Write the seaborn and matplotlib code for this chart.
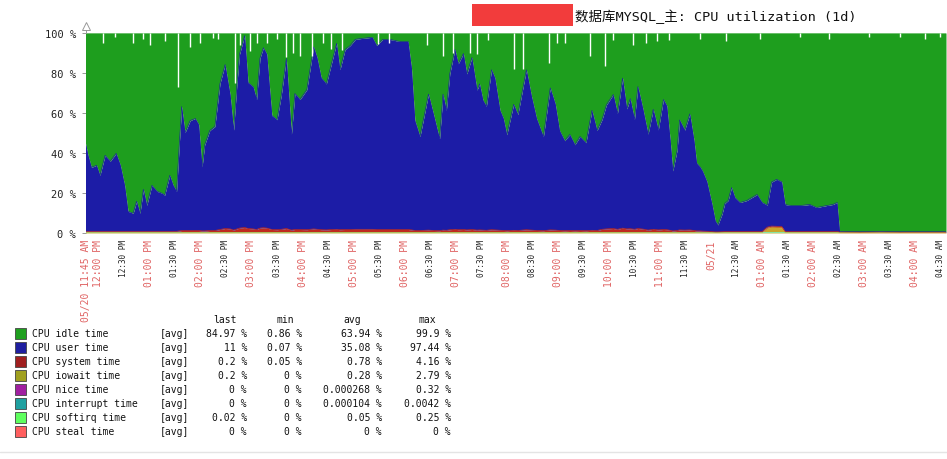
import numpy as np
import pandas as pd
import matplotlib
matplotlib.use("Agg")
import matplotlib.pyplot as plt
import seaborn as sns
from matplotlib.patches import Rectangle
from matplotlib.lines import Line2D

# ---------------- data ----------------
title_text = "数据库MYSQL_主: CPU utilization (1d)"

# minutes after 05/20 11:45 AM
minutes = [0, 3, 7, 13, 17, 23, 29, 36, 41, 46,
           50, 56, 60, 64, 68, 72, 78, 84, 90, 93,
           99, 103, 107, 110, 113, 117, 123, 129, 133, 137,
           140, 146, 152, 158, 164, 170, 174, 178, 181, 187,
           191, 197, 201, 205, 209, 213, 219, 225, 230, 236,
           242, 246, 252, 260, 268, 272, 277, 283, 289, 295,
           299, 305, 311, 317, 326, 337, 342, 349, 358, 369,
           379, 383, 387, 393, 403, 409, 416, 420, 424, 428,
           434, 438, 444, 448, 454, 460, 463, 467, 471, 477,
           481, 487, 491, 495, 503, 508, 518, 524, 530, 538,
           546, 552, 557, 563, 569, 575, 581, 588, 595, 601,
           607, 612, 620, 625, 631, 636, 640, 645, 649, 655,
           661, 667, 673, 679, 683, 687, 690, 695, 698, 704,
           710, 715, 718, 722, 725, 730, 736, 740, 743, 748,
           751, 755, 759, 763, 769, 777, 783, 789, 795, 801,
           806, 812, 818, 822, 828, 840, 851, 859, 871, 878,
           883, 886, 910, 933, 957, 980, 1011]

cpu_user = [44, 38, 32, 33, 28, 38, 35, 39, 33, 23,
            10, 9, 15, 9, 21, 13, 23, 20, 19, 18,
            28, 23, 20, 42, 62, 49, 55, 56, 53, 32,
            43, 50, 52, 73, 82, 67, 50, 73, 87, 96,
            73, 71, 65, 85, 90, 87, 57, 55, 67, 85,
            48, 68, 65, 70, 91, 86, 76, 73, 83, 93,
            80, 90, 92, 95, 95.5, 96, 92, 95, 95, 94,
            94, 81, 55, 47, 68, 58, 46, 68, 60, 78,
            90, 83, 88, 78, 86, 70, 73, 65, 62, 80,
            76, 60, 56, 48, 63, 58, 80, 67, 56, 47,
            71, 63, 50, 45, 48, 43, 47, 44, 60, 50,
            55, 62, 67, 58, 75, 60, 65, 55, 71, 60,
            48, 60, 50, 65, 62, 45, 30, 40, 55, 50,
            58, 45, 34, 32, 30, 25, 14, 5.5, 3.5, 9,
            14, 15.5, 22, 17, 14.5, 15.5, 17, 18.5, 14.5, 11,
            22, 23.5, 22.3, 13.5, 13, 13, 13.5, 12, 13, 13.5,
            14.5, 0.3, 0.2, 0.3, 0.2, 0.3, 0.3]

cpu_system = [0.6, 0.6, 0.6, 0.6, 0.6, 0.6, 0.6, 0.6, 0.6, 0.6,
              0.6, 0.6, 0.6, 0.6, 0.6, 0.6, 0.6, 0.6, 0.6, 0.6,
              0.6, 0.6, 0.6, 0.8, 1.0, 1.0, 1.0, 1.0, 1.0, 0.8,
              0.8, 1.0, 1.0, 1.5, 2.0, 1.8, 1.2, 1.8, 2.2, 2.5,
              2.0, 1.8, 1.5, 2.2, 2.4, 2.2, 1.5, 1.4, 1.6, 2.0,
              1.2, 1.5, 1.5, 1.4, 1.8, 1.6, 1.4, 1.3, 1.5, 1.6,
              1.4, 1.5, 1.5, 1.6, 1.6, 1.6, 1.5, 1.5, 1.5, 1.5,
              1.5, 1.3, 1.0, 1.0, 1.2, 1.0, 0.9, 1.2, 1.1, 1.4,
              1.6, 1.4, 1.5, 1.3, 1.5, 1.2, 1.3, 1.2, 1.1, 1.4,
              1.3, 1.1, 1.0, 0.9, 1.1, 1.0, 1.4, 1.2, 1.0, 0.9,
              1.3, 1.2, 1.0, 0.9, 1.0, 0.9, 1.0, 0.9, 1.1, 1.0,
              1.6, 1.8, 2.0, 1.6, 2.2, 1.8, 1.9, 1.6, 2.0, 1.7,
              1.2, 1.6, 1.3, 1.5, 1.4, 1.1, 0.8, 1.0, 1.3, 1.2,
              1.3, 1.0, 0.8, 0.8, 0.7, 0.6, 0.4, 0.3, 0.3, 0.4,
              0.5, 0.5, 0.5, 0.5, 0.5, 0.5, 0.5, 0.5, 0.5, 0.5,
              0.6, 0.6, 0.6, 0.5, 0.5, 0.5, 0.5, 0.5, 0.5, 0.5,
              0.5, 0.3, 0.2, 0.3, 0.2, 0.2, 0.2]

cpu_iowait = [0.2, 0.2, 0.2, 0.2, 0.2, 0.2, 0.2, 0.2, 0.2, 0.2,
              0.2, 0.2, 0.2, 0.2, 0.2, 0.2, 0.2, 0.2, 0.2, 0.2,
              0.2, 0.2, 0.2, 0.2, 0.2, 0.2, 0.2, 0.2, 0.2, 0.2,
              0.2, 0.2, 0.2, 0.2, 0.2, 0.2, 0.2, 0.2, 0.2, 0.2,
              0.2, 0.2, 0.2, 0.2, 0.2, 0.2, 0.2, 0.2, 0.2, 0.2,
              0.2, 0.2, 0.2, 0.2, 0.2, 0.2, 0.2, 0.2, 0.2, 0.2,
              0.2, 0.2, 0.2, 0.2, 0.2, 0.2, 0.2, 0.2, 0.2, 0.2,
              0.2, 0.2, 0.2, 0.2, 0.2, 0.2, 0.2, 0.2, 0.2, 0.2,
              0.2, 0.2, 0.2, 0.2, 0.2, 0.2, 0.2, 0.2, 0.2, 0.2,
              0.2, 0.2, 0.2, 0.2, 0.2, 0.2, 0.2, 0.2, 0.2, 0.2,
              0.2, 0.2, 0.2, 0.2, 0.2, 0.2, 0.2, 0.2, 0.2, 0.2,
              0.2, 0.2, 0.2, 0.2, 0.2, 0.2, 0.2, 0.2, 0.2, 0.2,
              0.2, 0.2, 0.2, 0.2, 0.2, 0.2, 0.2, 0.2, 0.2, 0.2,
              0.2, 0.2, 0.2, 0.2, 0.2, 0.2, 0.2, 0.2, 0.2, 0.2,
              0.2, 0.2, 0.2, 0.2, 0.2, 0.2, 0.2, 0.2, 0.2, 2.4,
              2.8, 2.7, 2.6, 0.2, 0.2, 0.2, 0.2, 0.2, 0.2, 0.2,
              0.2, 0.2, 0.2, 0.2, 0.2, 0.2, 0.2]

cpu_softirq = [0.05, 0.05, 0.05, 0.05, 0.05, 0.05, 0.05, 0.05, 0.05, 0.05,
               0.05, 0.05, 0.05, 0.05, 0.05, 0.05, 0.05, 0.05, 0.05, 0.05,
               0.05, 0.05, 0.05, 0.05, 0.05, 0.05, 0.05, 0.05, 0.05, 0.05,
               0.05, 0.05, 0.05, 0.05, 0.05, 0.05, 0.05, 0.05, 0.05, 0.05,
               0.05, 0.05, 0.05, 0.05, 0.05, 0.05, 0.05, 0.05, 0.05, 0.05,
               0.05, 0.05, 0.05, 0.05, 0.05, 0.05, 0.05, 0.05, 0.05, 0.05,
               0.05, 0.05, 0.05, 0.05, 0.05, 0.05, 0.05, 0.05, 0.05, 0.05,
               0.05, 0.05, 0.05, 0.05, 0.05, 0.05, 0.05, 0.05, 0.05, 0.05,
               0.05, 0.05, 0.05, 0.05, 0.05, 0.05, 0.05, 0.05, 0.05, 0.05,
               0.05, 0.05, 0.05, 0.05, 0.05, 0.05, 0.05, 0.05, 0.05, 0.05,
               0.05, 0.05, 0.05, 0.05, 0.05, 0.05, 0.05, 0.05, 0.05, 0.05,
               0.05, 0.05, 0.05, 0.05, 0.05, 0.05, 0.05, 0.05, 0.05, 0.05,
               0.05, 0.05, 0.05, 0.05, 0.05, 0.05, 0.05, 0.05, 0.05, 0.05,
               0.05, 0.05, 0.05, 0.05, 0.05, 0.05, 0.05, 0.05, 0.05, 0.05,
               0.05, 0.05, 0.05, 0.05, 0.05, 0.05, 0.05, 0.05, 0.05, 0.05,
               0.05, 0.05, 0.05, 0.05, 0.05, 0.05, 0.05, 0.05, 0.05, 0.05,
               0.05, 0.02, 0.02, 0.02, 0.02, 0.02, 0.02]

cpu_idle = [55.2, 61.2, 67.2, 66.2, 71.2, 61.2, 64.2, 60.2, 66.2, 76.2,
            89.2, 90.2, 84.2, 90.2, 78.2, 86.2, 76.2, 79.2, 80.2, 81.2,
            71.2, 76.2, 79.2, 57.0, 36.8, 49.8, 43.8, 42.8, 45.8, 67.0,
            56.0, 48.8, 46.8, 25.3, 15.8, 31.0, 48.6, 25.0, 10.6, 1.3,
            24.8, 27.0, 33.3, 12.6, 7.4, 10.6, 41.3, 43.4, 31.2, 12.8,
            50.6, 30.3, 33.3, 28.4, 7.0, 12.2, 22.4, 25.5, 15.3, 5.2,
            18.4, 8.3, 6.3, 3.2, 2.7, 2.2, 6.3, 3.3, 3.3, 4.3,
            4.3, 17.5, 43.8, 51.8, 30.6, 40.8, 52.9, 30.6, 38.7, 20.4,
            8.2, 15.4, 10.3, 20.5, 12.3, 28.6, 25.5, 33.6, 36.7, 18.4,
            22.5, 38.7, 42.8, 50.9, 35.7, 40.8, 18.4, 31.6, 42.8, 51.9,
            27.5, 35.6, 48.8, 53.9, 50.8, 55.9, 51.8, 54.9, 38.7, 48.8,
            43.2, 36.0, 30.8, 40.2, 22.6, 38.0, 32.9, 43.2, 26.8, 38.1,
            50.6, 38.2, 48.5, 33.3, 36.4, 53.7, 69.0, 58.8, 43.5, 48.6,
            40.5, 53.8, 65.0, 67.0, 69.1, 74.2, 85.4, 94.0, 96.0, 90.4,
            85.3, 83.8, 77.3, 82.3, 84.8, 83.8, 82.3, 80.8, 84.8, 86.1,
            74.6, 73.2, 74.5, 85.8, 86.3, 86.3, 85.8, 87.3, 86.3, 85.8,
            84.8, 99.2, 99.4, 99.2, 99.4, 99.3, 99.3]

# short drops of the idle series (top of the stack) in the graph
gap_minutes = [21, 35, 56, 68, 76, 93, 109, 123, 134, 150, 156, 176, 182, 193,
               201, 213, 225, 236, 244, 252, 266, 279, 289, 301, 344, 356, 401,
               420, 432, 452, 460, 473, 503, 514, 544, 554, 563, 593, 610, 620,
               643, 659, 671, 685, 722, 753, 792, 839, 874, 921, 957, 986, 1004]
gap_tops = [95, 98, 95, 97, 94, 96, 73, 93, 95, 97.5, 97, 75, 94, 91,
            95, 95, 97, 88, 90, 88.7, 88.7, 95, 92, 91.5, 94.5, 95, 94,
            88.7, 90, 90, 89.5, 96.7, 82, 82, 85, 95, 95, 88.7, 83.7, 96.7,
            94, 95, 96, 96.7, 97, 96, 97, 98, 97, 98, 98, 97, 98]

tick_minutes = [0, 15, 45, 75, 105, 135, 165, 195, 225, 255, 285, 315, 345, 375,
                405, 435, 465, 495, 525, 555, 585, 615, 645, 675, 705, 735, 765,
                795, 825, 855, 885, 915, 945, 975, 1005]
tick_labels = ["05/20 11:45 AM", "12:00 PM", "12:30 PM", "01:00 PM", "01:30 PM",
               "02:00 PM", "02:30 PM", "03:00 PM", "03:30 PM", "04:00 PM",
               "04:30 PM", "05:00 PM", "05:30 PM", "06:00 PM", "06:30 PM",
               "07:00 PM", "07:30 PM", "08:00 PM", "08:30 PM", "09:00 PM",
               "09:30 PM", "10:00 PM", "10:30 PM", "11:00 PM", "11:30 PM",
               "05/21", "12:30 AM", "01:00 AM", "01:30 AM", "02:00 AM",
               "02:30 AM", "03:00 AM", "03:30 AM", "04:00 AM", "04:30 AM"]
y_ticks = [0, 20, 40, 60, 80, 100]

legend_names = ["CPU idle time", "CPU user time", "CPU system time", "CPU iowait time",
                "CPU nice time", "CPU interrupt time", "CPU softirq time", "CPU steal time"]
legend_last = [84.97, 11, 0.2, 0.2, 0, 0, 0.02, 0]
legend_min = [0.86, 0.07, 0.05, 0, 0, 0, 0, 0]
legend_avg = [63.94, 35.08, 0.78, 0.28, 0.000268, 0.000104, 0.05, 0]
legend_max = [99.9, 97.44, 4.16, 2.79, 0.32, 0.0042, 0.25, 0]

# ---------------- style ----------------
legend_colors = ["#1f9f1f", "#1f1fa0", "#a01f1f", "#a0a01f",
                 "#a01fa0", "#1fa0a0", "#5fff5f", "#ff5f5f"]
area_colors = {"softirq": "#86e8a8", "iowait": "#c9a52a", "system": "#bf2a1e",
               "user": "#1c1ca6", "idle": "#1e9e1e"}
edge_widths = {"softirq": 1.3, "iowait": 0.4, "system": 0.5, "user": 0.4, "idle": 0.3}

sns.set_theme(style="white")
MONO = ["DejaVu Sans Mono", "Noto Sans CJK SC"]
plt.rcParams["font.family"] = MONO

W, H = 947, 460
fig = plt.figure(figsize=(W / 100, H / 100), dpi=100)
fig.patch.set_facecolor("white")


def fx(x):
    return x / W


def fy(y):
    return 1 - y / H


ax = fig.add_axes([fx(85.5), fy(234), fx(946) - fx(85.5), fy(34) - fy(234)])
ax.set_facecolor("white")

df = pd.DataFrame({"minute": minutes, "softirq": cpu_softirq, "iowait": cpu_iowait,
                   "system": cpu_system, "user": cpu_user, "idle": cpu_idle})
order = ["softirq", "iowait", "system", "user", "idle"]
tops = df[order].cumsum(axis=1)
bottoms = tops.shift(1, axis=1).fillna(0)

for name in order:
    ax.fill_between(df["minute"], bottoms[name], tops[name], color=area_colors[name],
                    linewidth=0, zorder=2)

long = tops.assign(minute=df["minute"]).melt(id_vars="minute", var_name="series", value_name="top")
for name in order:
    sns.lineplot(data=long[long["series"] == name], x="minute", y="top",
                 color=area_colors[name], linewidth=edge_widths[name],
                 estimator=None, ax=ax, zorder=3)

ax.vlines(gap_minutes, gap_tops, 100, colors="white", linewidth=1.0, zorder=4)

ax.set_xlim(0, 1011)
ax.set_ylim(0, 100)
ax.set_xlabel("")
ax.set_ylabel("")
for s in ax.spines.values():
    s.set_visible(False)

ax.set_yticks(y_ticks)
ax.set_yticklabels([f"{v} %" for v in y_ticks])
ax.tick_params(axis="y", left=True, length=3, width=0.6, color="#888888", pad=4,
               labelsize=7.5, labelcolor="#222222")
ax.set_xticks(tick_minutes)
ax.set_xticklabels(tick_labels, rotation=90, va="top", ha="center")
ax.tick_params(axis="x", bottom=False, length=0, pad=4.5)
for lab in ax.get_xticklabels():
    t = lab.get_text()
    if ":00" in t or "/" in t:
        lab.set_color("#e06464")
        lab.set_fontsize(7)
    else:
        lab.set_color("#222222")
        lab.set_fontsize(5.6)
ax.grid(False)

# y-axis arrow
ax.plot([0, 0], [1.0, 1.03], transform=ax.transAxes, color="#999999", lw=0.7,
        clip_on=False, zorder=5)
ax.plot([0], [1.035], transform=ax.transAxes, marker="^", ms=6, mfc="white",
        mec="#999999", mew=0.7, clip_on=False, zorder=5)

# title with redacted host name
fig.patches.append(Rectangle((fx(472), fy(27)), fx(573) - fx(472), fy(5) - fy(27),
                             transform=fig.transFigure, facecolor="#f23c3c",
                             edgecolor="none"))
fig.text(fx(575), fy(17), title_text, ha="left", va="center", fontsize=9.7,
         family=MONO, color="#111111")

# legend table
fs = 7
txt = "#111111"
fig.text(fx(225), fy(320), "last", ha="center", va="center", fontsize=fs, color=txt)
fig.text(fx(285), fy(320), "min", ha="center", va="center", fontsize=fs, color=txt)
fig.text(fx(352), fy(320), "avg", ha="center", va="center", fontsize=fs, color=txt)
fig.text(fx(427), fy(320), "max", ha="center", va="center", fontsize=fs, color=txt)
for i, name in enumerate(legend_names):
    y = 334 + i * 14.05
    fig.patches.append(Rectangle((fx(15), fy(y + 5.5)), fx(11), 11 / H,
                                 transform=fig.transFigure, facecolor=legend_colors[i],
                                 edgecolor="#444444", linewidth=0.6))
    fig.text(fx(32), fy(y), name, ha="left", va="center", fontsize=fs, color=txt)
    fig.text(fx(160), fy(y), "[avg]", ha="left", va="center", fontsize=fs, color=txt)
    fig.text(fx(247), fy(y), f"{legend_last[i]:g} %", ha="right", va="center", fontsize=fs, color=txt)
    fig.text(fx(302), fy(y), f"{legend_min[i]:g} %", ha="right", va="center", fontsize=fs, color=txt)
    fig.text(fx(382), fy(y), f"{legend_avg[i]:g} %", ha="right", va="center", fontsize=fs, color=txt)
    fig.text(fx(451), fy(y), f"{legend_max[i]:g} %", ha="right", va="center", fontsize=fs, color=txt)

fig.add_artist(Line2D([0, 1], [fy(452.5), fy(452.5)], transform=fig.transFigure,
                      color="#e4e4e4", linewidth=1.0))

fig.savefig("out.png", dpi=100, facecolor="white")
